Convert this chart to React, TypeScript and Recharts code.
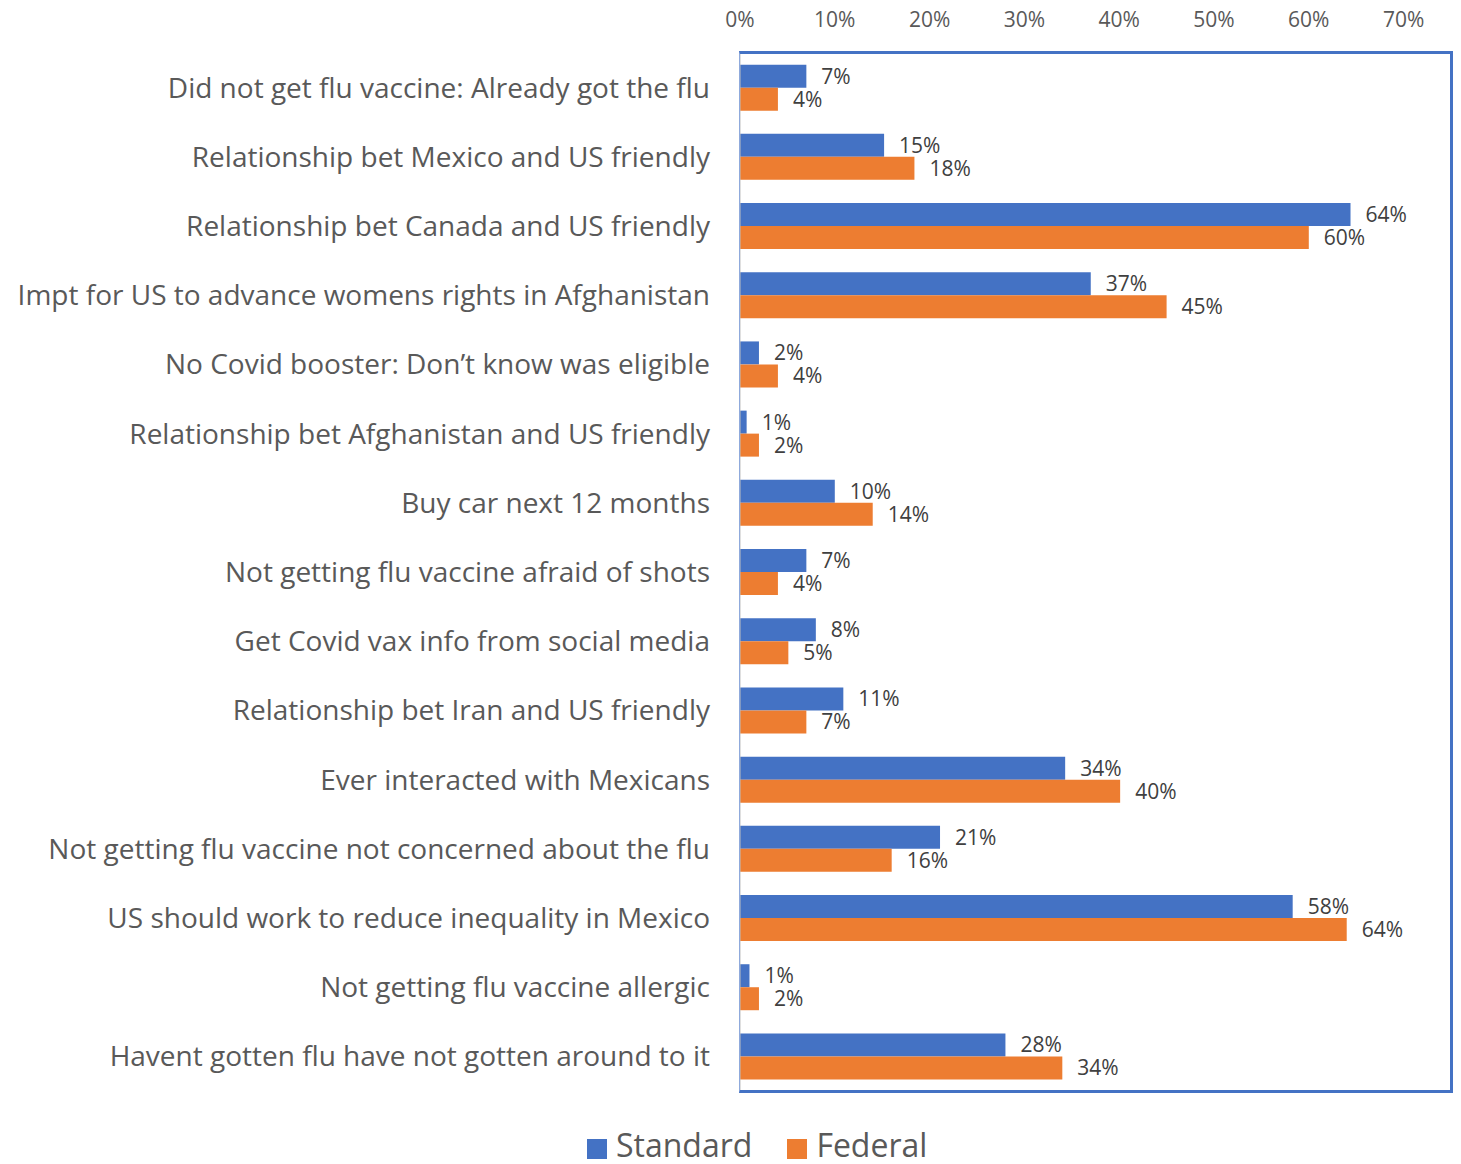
import React from "react";
import { BarChart, Bar, XAxis, YAxis, LabelList, Legend } from "recharts";

const categories = [
  "Did not get flu vaccine: Already got the flu",
  "Relationship bet Mexico and US friendly",
  "Relationship bet Canada and US friendly",
  "Impt for US to advance womens rights in Afghanistan",
  "No Covid booster: Don\u2019t know was eligible",
  "Relationship bet Afghanistan and US friendly",
  "Buy car next 12 months",
  "Not getting flu vaccine afraid of shots",
  "Get Covid vax info from social media",
  "Relationship bet Iran and US friendly",
  "Ever interacted with Mexicans",
  "Not getting flu vaccine not concerned about the flu",
  "US should work to reduce inequality in Mexico",
  "Not getting flu vaccine allergic",
  "Havent gotten flu have not gotten around to it",
];

const standardValues = [7, 15.2, 64.4, 37, 2, 0.7, 10, 7, 8, 10.9, 34.3, 21.1, 58.3, 1, 28];
const federalValues = [4, 18.4, 60, 45, 4, 2, 14, 4, 5.1, 7, 40.1, 16, 64, 2, 34];

const seriesNames = ["Standard", "Federal"];
const seriesColors = ["#4472C4", "#ED7D31"];
const xTicks = [0, 10, 20, 30, 40, 50, 60, 70];

const data = categories.map((c, i) => ({
  category: c,
  Standard: standardValues[i],
  Federal: federalValues[i],
}));

const FONT = "'Open Sans', 'Noto Sans', sans-serif";

const fmt = (v: any) => `${Math.round(Number(v))}%`;

const LegendContent = () => (
  <div style={{ display: "flex", alignItems: "center", fontFamily: FONT, height: 32 }}>
    {seriesNames.map((name, i) => (
      <div key={name} style={{ display: "flex", alignItems: "center", marginRight: 35 }}>
        <div
          style={{
            width: 20,
            height: 20,
            background: seriesColors[i],
            marginRight: 9,
            position: "relative",
            top: 4,
          }}
        />
        <span style={{ fontSize: 32, lineHeight: "32px", color: "#595959" }}>{name}</span>
      </div>
    ))}
  </div>
);

export default function App() {
  return (
    <div style={{ position: "absolute", left: 0, top: 0, width: 1461, height: 1164, background: "#fff" }}>
      <BarChart
        width={1461}
        height={1164}
        data={data}
        layout="vertical"
        margin={{ top: 0, right: 10, bottom: 73, left: 0 }}
        barCategoryGap="16.8%"
        barGap={0}
      >
        <XAxis
          type="number"
          orientation="top"
          domain={[0, 75]}
          ticks={xTicks}
          tickFormatter={(v) => `${v}%`}
          axisLine={false}
          tickLine={false}
          tickSize={0}
          tickMargin={26}
          height={53}
          tick={{ fill: "#595959", fontSize: 21, fontFamily: FONT }}
        />
        <YAxis
          type="category"
          dataKey="category"
          width={740}
          axisLine={{ stroke: "#BFBFBF", strokeWidth: 1 }}
          tickLine={false}
          tickSize={0}
          tickMargin={30}
          interval={0}
          tick={{ fill: "#595959", fontSize: 28, fontFamily: FONT }}
        />
        <Legend
          layout="horizontal"
          verticalAlign="middle"
          align="center"
          wrapperStyle={{ top: 1129, left: 587, width: 460, height: 32 }}
          content={<LegendContent />}
        />
        {seriesNames.map((name, i) => (
          <Bar key={name} dataKey={name} fill={seriesColors[i]} isAnimationActive={false}>
            <LabelList
              dataKey={name}
              position="right"
              offset={15}
              formatter={fmt}
              style={{ fill: "#404040", fontSize: 21, fontFamily: FONT }}
            />
          </Bar>
        ))}
      </BarChart>
      <div
        style={{
          position: "absolute",
          left: 739,
          top: 51,
          width: 714,
          height: 1042,
          boxSizing: "border-box",
          borderTop: "3px solid #4472C4",
          borderRight: "3px solid #4472C4",
          borderBottom: "3px solid #4472C4",
          borderLeft: "1px solid #8FAADC",
          pointerEvents: "none",
        }}
      />
    </div>
  );
}
